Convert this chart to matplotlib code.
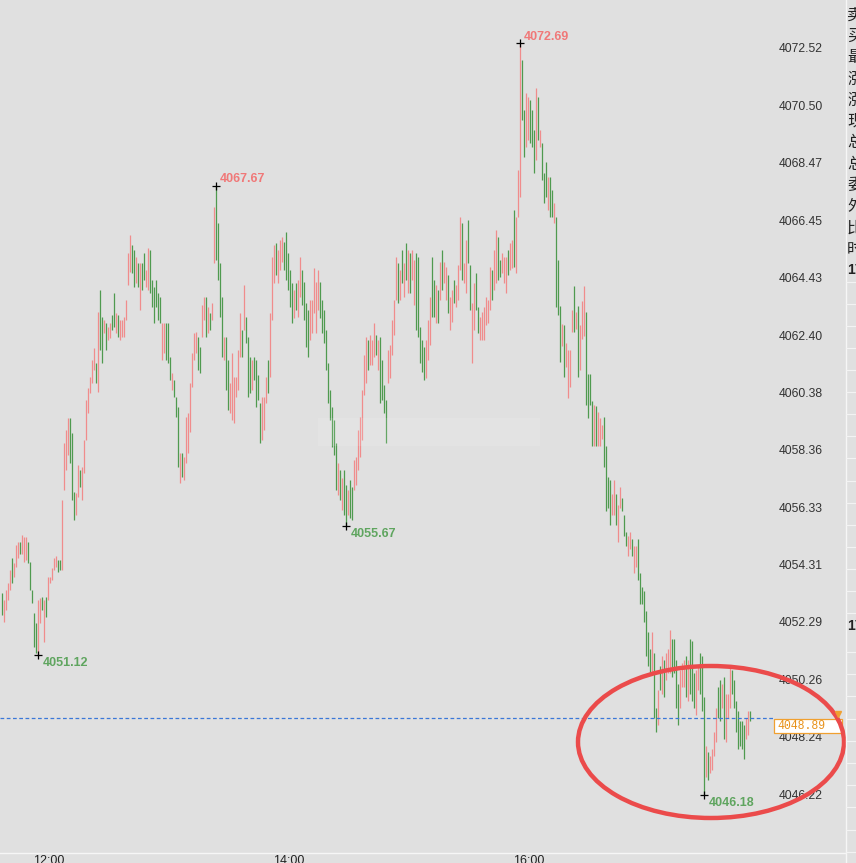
import numpy as np
import matplotlib
matplotlib.use("Agg")
import matplotlib.pyplot as plt
from matplotlib.patches import Ellipse, Rectangle
from matplotlib.lines import Line2D

# one-minute bars starting at 11:44
start_time = "11:44"

highs = [
    4053.31, 4053.06, 4053.41, 4053.65, 4054.11, 4054.53, 4054.35, 4054.99, 4055.10, 4055.10,
    4055.34, 4055.27, 4055.27, 4055.10, 4054.39, 4053.41, 4052.60, 4052.25, 4053.06, 4053.13,
    4053.16, 4053.06, 4053.16, 4053.86, 4053.86, 4054.18, 4054.56, 4054.63, 4054.46, 4054.46,
    4056.58, 4058.58, 4059.04, 4059.47, 4059.47, 4058.94, 4056.86, 4056.82, 4057.81, 4057.63,
    4057.74, 4058.69, 4060.10, 4060.53, 4060.92, 4061.51, 4061.94, 4061.41, 4063.21, 4063.98,
    4063.03, 4062.92, 4062.82, 4062.68, 4062.82, 4063.10, 4063.88, 4063.17, 4063.10, 4062.92,
    4062.92, 4063.03, 4063.63, 4065.29, 4065.92, 4065.57, 4065.39, 4065.15, 4064.94, 4064.94,
    4064.94, 4065.29, 4064.69, 4065.47, 4065.39, 4064.33, 4064.09, 4064.33, 4063.88, 4063.74,
    4062.82, 4062.82, 4062.82, 4062.82, 4061.62, 4061.06, 4060.81, 4060.21, 4059.86, 4058.24,
    4058.24, 4058.09, 4059.51, 4059.65, 4060.71, 4061.77, 4062.47, 4062.50, 4062.33, 4061.98,
    4063.45, 4063.74, 4063.74, 4063.38, 4063.17, 4063.52, 4066.91, 4067.67, 4066.35, 4064.94,
    4063.74, 4062.33, 4062.33, 4061.51, 4060.71, 4061.77, 4060.92, 4060.92, 4061.87, 4063.17,
    4062.57, 4064.16, 4063.03, 4062.33, 4061.62, 4061.51, 4061.62, 4061.51, 4060.99, 4060.00,
    4060.21, 4060.21, 4060.92, 4061.51, 4063.17, 4065.15, 4065.57, 4065.64, 4065.39, 4065.75,
    4065.85, 4065.68, 4066.03, 4065.29, 4064.69, 4064.23, 4063.98, 4064.23, 4064.33, 4065.15,
    4064.69, 4064.27, 4063.52, 4063.28, 4063.63, 4063.63, 4064.76, 4064.27, 4064.69, 4064.27,
    4063.63, 4063.28, 4062.57, 4061.41, 4060.46, 4059.86, 4059.40, 4058.58, 4057.88, 4057.63,
    4057.35, 4057.63, 4057.11, 4056.93, 4057.28, 4057.04, 4057.99, 4058.09, 4059.04, 4059.51,
    4060.46, 4061.69, 4062.33, 4062.22, 4062.40, 4062.22, 4062.82, 4062.40, 4062.22, 4062.33,
    4061.51, 4060.64, 4060.10, 4061.87, 4062.05, 4062.92, 4063.63, 4065.15, 4064.94, 4064.69,
    4065.39, 4064.94, 4065.64, 4065.39, 4065.29, 4065.39, 4065.04, 4065.29, 4065.15, 4062.68,
    4062.22, 4061.98, 4062.22, 4062.92, 4063.74, 4065.15, 4064.33, 4064.16, 4063.98, 4064.97,
    4065.39, 4064.97, 4064.80, 4064.52, 4063.74, 4063.98, 4064.33, 4064.16, 4064.87, 4066.56,
    4066.35, 4064.94, 4065.75, 4066.45, 4064.87, 4063.52, 4064.23, 4064.58, 4063.38, 4063.03,
    4063.21, 4063.38, 4063.74, 4063.63, 4064.80, 4064.69, 4065.39, 4066.10, 4065.85, 4065.04,
    4065.29, 4065.15, 4065.15, 4065.39, 4065.64, 4065.75, 4066.80, 4066.56, 4068.21, 4072.69,
    4072.09, 4070.33, 4070.93, 4070.79, 4070.68, 4070.33, 4069.62, 4071.11, 4070.79, 4069.62,
    4069.17, 4068.11, 4068.50, 4067.97, 4067.97, 4067.51, 4067.05, 4066.56, 4065.04, 4063.42,
    4062.78, 4062.75, 4062.12, 4061.87, 4061.87, 4063.28, 4064.12, 4063.21, 4063.42, 4062.75,
    4063.60, 4064.12, 4063.21, 4061.02, 4061.02, 4060.07, 4059.93, 4059.90, 4059.68, 4059.47,
    4059.22, 4059.51, 4058.48, 4057.39, 4057.28, 4056.79, 4057.28, 4056.79, 4056.41, 4057.04,
    4056.65, 4056.05, 4055.45, 4055.31, 4055.45, 4055.20, 4054.96, 4054.96, 4055.20, 4054.01,
    4053.52, 4053.38, 4052.67, 4051.93, 4051.33, 4051.93, 4051.19, 4049.25, 4049.88, 4050.73,
    4051.08, 4050.94, 4051.19, 4051.33, 4052.00, 4051.68, 4051.68, 4050.94, 4050.10, 4050.59,
    4050.84, 4050.94, 4051.08, 4050.94, 4051.68, 4051.61, 4050.49, 4050.59, 4050.73, 4051.19,
    4051.08, 4049.64, 4047.91, 4047.70, 4047.56, 4047.81, 4048.41, 4049.25, 4049.99, 4050.24,
    4050.10, 4050.35, 4049.75, 4049.75, 4050.73, 4050.59, 4050.24, 4049.50, 4049.15, 4048.79,
    4048.79, 4048.65, 4048.90, 4049.15, 4049.15,
]

lows = [
    4052.52, 4052.28, 4052.70, 4053.06, 4053.41, 4053.65, 4053.86, 4054.21, 4054.53, 4054.70,
    4054.70, 4054.39, 4054.46, 4054.35, 4053.41, 4052.95, 4051.40, 4051.19, 4051.12, 4052.25,
    4052.70, 4051.58, 4052.46, 4053.06, 4053.65, 4053.76, 4054.11, 4054.21, 4054.04, 4054.11,
    4054.11, 4056.93, 4057.63, 4058.16, 4057.88, 4056.58, 4055.87, 4056.05, 4056.68, 4057.04,
    4056.58, 4057.53, 4058.69, 4059.65, 4060.35, 4060.71, 4061.16, 4060.71, 4060.39, 4061.87,
    4061.41, 4062.47, 4061.87, 4062.22, 4062.29, 4062.57, 4062.68, 4062.47, 4062.33, 4062.22,
    4062.33, 4062.33, 4062.92, 4064.16, 4064.62, 4064.58, 4064.09, 4064.23, 4064.09, 4063.28,
    4063.98, 4064.33, 4064.09, 4063.98, 4063.88, 4063.38, 4062.82, 4063.38, 4062.92, 4062.82,
    4061.51, 4061.77, 4061.51, 4061.41, 4060.81, 4060.46, 4060.21, 4059.51, 4057.74, 4057.18,
    4057.39, 4057.28, 4057.88, 4058.24, 4058.97, 4060.56, 4061.51, 4061.77, 4061.16, 4061.06,
    4062.33, 4062.92, 4062.33, 4062.47, 4062.57, 4062.92, 4064.94, 4065.04, 4064.33, 4063.03,
    4061.62, 4061.51, 4060.46, 4059.75, 4059.65, 4059.40, 4059.30, 4060.21, 4060.46, 4061.62,
    4061.62, 4062.57, 4062.12, 4060.21, 4060.35, 4060.46, 4060.81, 4059.86, 4060.10, 4058.58,
    4058.69, 4059.04, 4060.00, 4060.35, 4060.92, 4062.92, 4064.23, 4064.52, 4064.23, 4064.69,
    4064.97, 4064.69, 4064.33, 4063.98, 4063.38, 4062.82, 4062.99, 4063.28, 4063.03, 4063.74,
    4063.45, 4062.92, 4061.98, 4061.62, 4062.22, 4062.47, 4063.17, 4062.47, 4063.28, 4062.99,
    4062.47, 4062.12, 4061.16, 4060.00, 4059.40, 4058.45, 4058.16, 4056.93, 4056.76, 4056.58,
    4056.22, 4056.05, 4055.67, 4056.05, 4055.95, 4055.87, 4056.93, 4057.11, 4057.63, 4058.09,
    4058.69, 4060.28, 4060.71, 4061.16, 4061.34, 4061.34, 4061.62, 4061.69, 4061.16, 4060.00,
    4060.10, 4059.65, 4058.58, 4060.71, 4060.88, 4061.69, 4062.40, 4063.63, 4063.52, 4063.63,
    4064.23, 4063.74, 4064.33, 4063.88, 4063.88, 4064.33, 4063.45, 4062.57, 4062.33, 4061.41,
    4061.09, 4060.81, 4060.88, 4061.51, 4062.05, 4063.03, 4063.03, 4062.82, 4062.82, 4063.63,
    4063.98, 4064.23, 4063.63, 4063.17, 4062.57, 4062.86, 4063.52, 4063.38, 4063.63, 4064.69,
    4064.33, 4064.23, 4063.88, 4064.94, 4063.28, 4061.41, 4062.57, 4063.28, 4062.47, 4062.22,
    4062.22, 4062.22, 4062.75, 4062.82, 4063.28, 4063.63, 4063.98, 4064.23, 4064.33, 4064.44,
    4064.58, 4064.23, 4063.88, 4064.52, 4064.69, 4064.76, 4064.80, 4064.58, 4066.56, 4067.27,
    4069.98, 4068.67, 4069.03, 4069.27, 4069.17, 4069.03, 4068.11, 4068.57, 4069.27, 4069.03,
    4067.86, 4067.05, 4067.27, 4066.80, 4066.56, 4066.56, 4066.35, 4063.38, 4063.10, 4061.44,
    4062.01, 4060.92, 4061.27, 4060.18, 4060.56, 4062.50, 4062.50, 4062.61, 4060.92, 4061.16,
    4062.26, 4062.36, 4059.93, 4059.47, 4059.93, 4058.48, 4058.48, 4058.48, 4058.48, 4058.48,
    4058.73, 4057.74, 4056.19, 4056.30, 4055.70, 4056.05, 4056.05, 4055.70, 4055.10, 4056.30,
    4056.19, 4055.31, 4054.96, 4054.61, 4054.85, 4054.61, 4054.01, 4054.21, 4053.76, 4052.92,
    4052.92, 4052.28, 4051.08, 4050.73, 4050.49, 4050.49, 4048.90, 4048.40, 4048.65, 4049.88,
    4049.75, 4049.64, 4050.24, 4050.49, 4050.49, 4050.35, 4050.49, 4049.25, 4048.65, 4049.25,
    4049.99, 4049.99, 4049.64, 4049.50, 4049.75, 4049.50, 4049.25, 4049.01, 4049.88, 4049.75,
    4049.15, 4046.18, 4046.82, 4046.71, 4046.96, 4047.06, 4047.56, 4048.05, 4048.90, 4048.79,
    4049.25, 4048.16, 4048.05, 4048.90, 4049.25, 4049.75, 4049.25, 4048.40, 4047.81, 4047.91,
    4047.81, 4047.45, 4048.16, 4048.30, 4048.79,
]

# r = bar closed up (red), g = bar closed down (green)
updown = (
    "grrrrgrrrg" "rrrgggggrr" "grgrrrrrgg" "rrrrgggrrg" "rrrrrrrgrg"
    "grgrrggrgr" "rrrrrggrgr" "ggrrgggggg" "rrgggrgggr" "grrrrrrrgg"
    "rrgrgrrggg" "grggrrrrrr" "grgggrgggg" "rrrgrrrgrr" "rgggggrgrr"
    "ggggrrrrrg" "ggggggggrg" "rggrggrrrr" "rrrgrrrgrg" "gggrrrrrgr"
    "grgrgrrggg" "ggrrrggrgr" "grrgrrgrrr" "grrggrrggr" "rrrrrgrrgg"
    "rrrgrrgrrr" "ggrrgggrgr" "gggrggrggg" "rgrrrrgrgr" "rrggggrgrr"
    "rggggrrgrr" "gggrrgrrgg" "gggggrggrg" "rgrrrggggr" "rrgrgggrrg"
    "ggrgrrrrgg" "rgrrrggggg" "ggrrg"
)

last_price = 4048.89

price_ticks = [4072.52, 4070.50, 4068.47, 4066.45, 4064.43, 4062.40, 4060.38,
               4058.36, 4056.33, 4054.31, 4052.29, 4050.26, 4048.24, 4046.22]
time_ticks = ["12:00", "14:00", "16:00"]

# which swing points get a price label: (kind, first bar, last bar)
swing_windows = [("high", 0, 375), ("high", 60, 200),
                 ("low", 0, 100), ("low", 100, 250), ("low", 300, 375)]

panel_labels = ["卖", "买", "最", "涨", "涨", "现", "总", "总", "委", "外", "比", "时"]

assert len(highs) == len(lows) == len(updown)

bg = "#e0e0e0"
up_color = "#f08c8c"
down_color = "#4f9a4f"
W, H = 856, 863

plt.rcParams['font.family'] = ['Liberation Sans', 'DejaVu Sans']


def to_min(s):
    h, m = s.split(":")
    return int(h) * 60 + int(m)


highs = np.array(highs)
lows = np.array(lows)
x = to_min(start_time) + np.arange(len(highs))

fig = plt.figure(figsize=(W / 100, H / 100), dpi=100, facecolor=bg)
ax = fig.add_axes([0, 1 - 852 / H, 770 / W, 852 / H], facecolor=bg)

cols = [up_color if c == "r" else down_color for c in updown]
ax.vlines(x, lows, highs, colors=cols, linewidth=0.9)

ax.axhline(last_price, color="#3b78d8", lw=0.9, ls=(0, (3, 2)), xmax=1.007, clip_on=False)

# swing high / low labels
for kind, a, b in swing_windows:
    seg = highs[a:b] if kind == "high" else lows[a:b]
    i = a + (np.argmax(seg) if kind == "high" else np.argmin(seg))
    v = highs[i] if kind == "high" else lows[i]
    ax.plot(x[i], v, marker="+", color="black", ms=6, mew=0.9)
    if kind == "high":
        ax.annotate(f"{v:.2f}", (x[i], v), xytext=(3, 4.5), textcoords="offset points",
                    color="#f07878", fontweight="bold", fontsize=9, va="center", ha="left")
    else:
        ax.annotate(f"{v:.2f}", (x[i], v), xytext=(3.5, -5.5), textcoords="offset points",
                    color="#5fa55f", fontweight="bold", fontsize=9, va="center", ha="left")

ax.set_xlim(703.25, 703.25 + 770 / 2)
ax.set_ylim(4044.18, 4074.21)

ax.yaxis.tick_right()
ax.set_yticks(price_ticks)
ax.set_yticklabels([f"{v:.2f}" for v in price_ticks])
ax.tick_params(axis="y", length=0, pad=6, labelsize=8.7, labelcolor="#333333")

ax.set_xticks([to_min(t) for t in time_ticks])
ax.set_xticklabels(time_ticks, ha="left")
ax.tick_params(axis="x", length=0, pad=2, labelsize=9, labelcolor="#222222")
for s in ax.spines.values():
    s.set_visible(False)

# frame lines of the trading window
fig.add_artist(Line2D([0, 845 / W], [1 - 852.5 / H] * 2, color="#f6f6f6", lw=1))
fig.add_artist(Line2D([845.5 / W] * 2, [0, 1], color="#f6f6f6", lw=1))

# blurred watermark strip
fig.add_artist(Rectangle((318 / W, 1 - 446 / H), 222 / W, 28 / H, transform=fig.transFigure,
                         facecolor="white", edgecolor="none", alpha=0.12))

# last price box
fig.add_artist(Rectangle((774 / W, 1 - 733 / H), 68 / W, 14 / H, transform=fig.transFigure,
                         facecolor="white", edgecolor="#f0a030", lw=0.9))
fig.text(777 / W, 1 - 726 / H, f"{last_price:.2f}", color="#e8921a", fontsize=8.3,
         family=["Liberation Mono", "DejaVu Sans Mono"], va="center", ha="left")
fig.add_artist(Line2D([838 / W], [1 - 714 / H], marker="v", color="#f0a030", ms=4, lw=0))

# hand drawn red ellipse
fig.add_artist(Ellipse((711 / W, 1 - 742 / H), 266 / W, 152 / H, transform=fig.transFigure,
                       fill=False, edgecolor="#eb4b4b", lw=3.2))

# right info panel (cut off)
for k, ch in enumerate(panel_labels):
    fig.text(847 / W, 1 - (15 + 21.3 * k) / H, ch, fontsize=11.5, color="#222222",
             family=["Noto Sans CJK SC", "DejaVu Sans"], va="center", ha="left")
for yy in (270, 626):
    fig.text(847 / W, 1 - yy / H, "17", fontsize=10, fontweight="bold", color="#222222",
             va="center", ha="left")
for yy in list(np.arange(282, 613, 22.06)) + list(np.arange(652, 853, 22.2)):
    fig.add_artist(Line2D([846 / W, 1], [1 - yy / H] * 2, color="#f3f3f3", lw=0.8))

fig.savefig("out.png", dpi=100, facecolor=bg)
